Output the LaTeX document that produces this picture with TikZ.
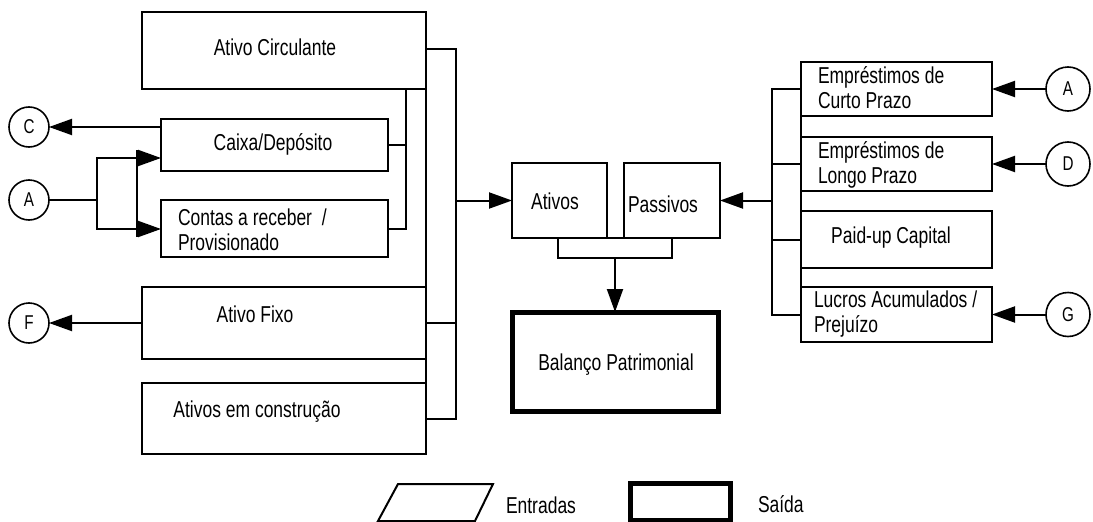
\documentclass[tikz,border=0pt]{standalone}
\usepackage{fontspec}
\setmainfont{Liberation Sans}[FakeStretch=0.76]
\usetikzlibrary{arrows.meta}
\begin{document}
\begin{tikzpicture}[x=1pt,y=-1pt,
  line width=2pt,
  every node/.style={inner sep=0pt, outer sep=0pt},
  box/.style={draw, rectangle, line width=2pt},
  outbox/.style={draw, rectangle, line width=5pt},
  conn/.style={draw, circle, line width=1.6pt, font=\fontsize{20pt}{20pt}\selectfont},
  lbl/.style={font=\fontsize{23pt}{24.5pt}\selectfont},
  arr/.style={-{Triangle[length=23pt,width=16pt]}},
]
\useasboundingbox (0,0) rectangle (1093,522);

% ---- asset boxes (left column)
\node[box, minimum width=284pt, minimum height=77pt] (ac) at (284,50.5) {};
\node[box, minimum width=227pt, minimum height=52pt] (cx) at (274.5,145) {};
\node[box, minimum width=227pt, minimum height=57pt] (cr) at (274.5,228.5) {};
\node[box, minimum width=284pt, minimum height=72pt] (af) at (284,323) {};
\node[box, minimum width=284pt, minimum height=71pt] (ec) at (284,418.5) {};

\node[lbl, anchor=base] (tac) at (275,55) {Ativo Circulante};
\node[lbl, anchor=base] (tcx) at (273,150) {Caixa/Depósito};
\node[lbl, anchor=base west, align=left] (tcr) at (178,250) {Contas a receber\ \ /\\Provisionado};
\node[lbl, anchor=base] (taf) at (255,322) {Ativo Fixo};
\node[lbl, anchor=base] (tec) at (257,417) {Ativos em construção};

% ---- off-page connectors (left)
\node[conn, minimum size=40pt] (C) at (29,127) {C};
\node[conn, minimum size=40pt] (Al) at (29,200) {A};
\node[conn, minimum size=40pt] (F) at (29,323) {F};

% ---- centre
\node[box, minimum width=95pt, minimum height=75pt] (at) at (559.5,200.5) {};
\node[box, minimum width=96pt, minimum height=75pt] (pa) at (672,200.5) {};
\node[outbox, minimum width=206pt, minimum height=99pt] (bp) at (615,361.5) {};
\node[lbl, anchor=base] (tat) at (555,209) {Ativos};
\node[lbl, anchor=base] (tpa) at (663,212) {Passivos};
\node[lbl, anchor=base] (tbp) at (616,370) {Balanço Patrimonial};

% ---- liability boxes (right column)
\node[box, minimum width=191pt, minimum height=54pt] (lc) at (896.5,89) {};
\node[box, minimum width=191pt, minimum height=54pt] (ll) at (896.5,164) {};
\node[box, minimum width=191pt, minimum height=57pt] (pc) at (896.5,239.5) {};
\node[box, minimum width=191pt, minimum height=55pt] (la) at (896.5,314.5) {};

\node[lbl, anchor=base west, align=left] (tlc) at (818,108) {Empréstimos de\\Curto Prazo};
\node[lbl, anchor=base west, align=left] (tll) at (818,183) {Empréstimos de\\Longo Prazo};
\node[lbl, anchor=base] (tpc) at (891,243) {Paid-up Capital};
\node[lbl, anchor=base west, align=left] (tla) at (814,332) {Lucros Acumulados /\\Prejuízo};

% ---- off-page connectors (right)
\node[conn, minimum size=44pt] (Ar) at (1068,89) {A};
\node[conn, minimum size=44pt] (D) at (1068,164) {D};
\node[conn, minimum size=44pt] (G) at (1068,314.5) {G};

% ---- bus coordinates
\coordinate (sbus) at (406,89);
\coordinate (lbus) at (456,49);
\coordinate (split) at (97,200);
\coordinate (rbus) at (772,89);
\coordinate (brl) at (558,238);
\coordinate (brr) at (672,258);
\coordinate (brm) at (615,258);

% ---- left-side wiring
\draw[arr] (cx.west |- C) -- (C);
\draw[arr] (af.west) -- (F);
\draw (Al) -- (split);
\draw[arr] (split) |- ([yshift=-13pt]cx.west);
\draw[arr] (split) |- ([yshift=-0.5pt]cr.west);
\draw (137,150) -- (137,237);

\draw (cx.east) -- (cx.east -| sbus);
\draw (cr.east) -| (sbus);
\draw (ac.south east) -- (ec.north east);
\draw (ac.east |- lbus) -- (lbus) |- (ec.east);
\draw (af.east) -- (af.east -| lbus);
\draw[arr] (at.west -| lbus) -- (at.west);

% ---- totals
\draw (brl) rectangle (brr);
\draw[arr] (brm) -- (bp.north);

% ---- right-side wiring
\draw (lc.south west) -- (la.north west);
\draw (lc.west) -- (lc.west -| rbus) |- (la.west);
\draw (ll.west) -- (ll.west -| rbus);
\draw (pc.west) -- (pc.west -| rbus);
\draw[arr] (pa.east -| rbus) -- (pa.east);
\draw[arr] (Ar) -- (lc.east);
\draw[arr] (D) -- (ll.east);
\draw[arr] (G) -- (la.east);

% ---- legend
\draw (378,521) -- (398,484) -- (493,484) -- (475,521) -- cycle;
\node[lbl, anchor=base west] (tin) at (506,513) {Entradas};
\node[draw, line width=5pt, minimum width=100pt, minimum height=37pt] (legout) at (680,502) {};
\node[lbl, anchor=base west] (tout) at (758,512) {Saída};
\end{tikzpicture}
\end{document}
